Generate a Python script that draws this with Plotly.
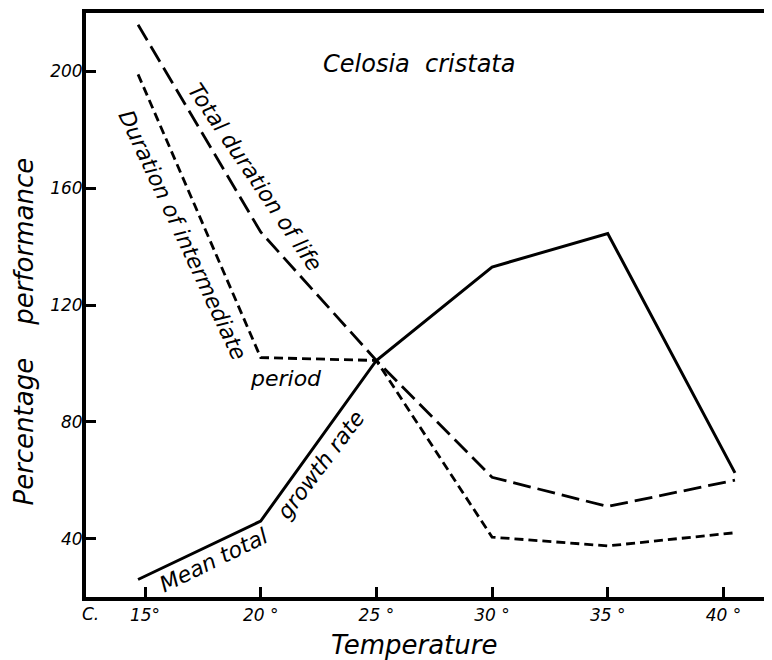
import plotly.graph_objects as go

# Data (temperature in °C, percentage performance)
temp = [14.7, 20, 25, 30, 35, 40.5]
total_life = [216, 145, 101, 61, 51, 60]
intermediate = [199, 102, 101, 40.5, 37.5, 42]
growth_rate = [26, 46, 101, 133, 144.5, 62.5]

x_tickvals = [15, 20, 25, 30, 35, 40]
x_ticktext = ["15°", "20 °", "25 °", "30 °", "35 °", "40 °"]
y_tickvals = [40, 80, 120, 160, 200]
y_ticktext = ["40", "80", "120", "160", "200"]

FONT = "DejaVu Sans"

fig = go.Figure()
fig.add_trace(go.Scatter(x=temp, y=total_life, mode="lines",
                         line=dict(color="black", width=2.8, dash="18px,7px"),
                         showlegend=False, hoverinfo="skip"))
fig.add_trace(go.Scatter(x=temp, y=intermediate, mode="lines",
                         line=dict(color="black", width=2.8, dash="9px,5px"),
                         showlegend=False, hoverinfo="skip"))
fig.add_trace(go.Scatter(x=temp, y=growth_rate, mode="lines",
                         line=dict(color="black", width=3),
                         showlegend=False, hoverinfo="skip"))

ann_font = dict(family=FONT, size=22, color="black")
annotations = [
    dict(x=26.84, y=202.4, text="<i>Celosia\u00a0\u00a0cristata</i>", textangle=0,
         font=dict(family=FONT, size=24, color="black")),
    dict(x=19.75, y=163.5, text="<i>Total duration of life</i>", textangle=56, font=ann_font),
    dict(x=16.6, y=144.0, text="<i>Duration of intermediate</i>", textangle=65, font=ann_font),
    dict(x=21.09, y=94.9, text="<i>period</i>", textangle=0, font=ann_font),
    dict(x=17.95, y=32.5, text="<i>Mean total</i>", textangle=-26, font=ann_font),
    dict(x=22.6, y=65.5, text="<i>growth rate</i>", textangle=-53, font=ann_font),
]
for a in annotations:
    a.update(xref="x", yref="y", showarrow=False, xanchor="center", yanchor="middle")

annotations += [
    dict(xref="paper", yref="paper", x=-0.09, y=0.455, showarrow=False,
         text="<i>Percentage\u00a0\u00a0\u00a0\u00a0performance</i>", textangle=-90,
         font=dict(family=FONT, size=26, color="black"), xanchor="center", yanchor="middle"),
    dict(xref="paper", yref="paper", x=0.478, y=-0.082, showarrow=False,
         text="<i>Temperature</i>",
         font=dict(family=FONT, size=26, color="black"), xanchor="center", yanchor="middle"),
    dict(xref="paper", yref="paper", x=0.006, y=-0.029, showarrow=False,
         text="<i>C.</i>",
         font=dict(family=FONT, size=17, color="black"), xanchor="center", yanchor="middle"),
]

fig.update_layout(
    width=764, height=652,
    margin=dict(l=78, r=0, t=5, b=63),
    paper_bgcolor="white", plot_bgcolor="white",
    annotations=annotations,
    xaxis=dict(range=[12.45, 42.1], tickvals=x_tickvals, ticktext=x_ticktext,
               ticks="inside", ticklen=10, tickwidth=2.5, tickcolor="black",
               showline=True, linewidth=4, linecolor="black", mirror=True,
               showgrid=False, zeroline=False,
               tickfont=dict(family=FONT, size=17, color="black", style="italic")),
    yaxis=dict(range=[20, 220], tickvals=y_tickvals, ticktext=y_ticktext,
               ticks="inside", ticklen=10, tickwidth=2.5, tickcolor="black",
               showline=True, linewidth=4, linecolor="black",
               showgrid=False, zeroline=False, ticklabelstandoff=-4,
               tickfont=dict(family=FONT, size=17, color="black", style="italic")),
)

fig.write_html("out.html")
